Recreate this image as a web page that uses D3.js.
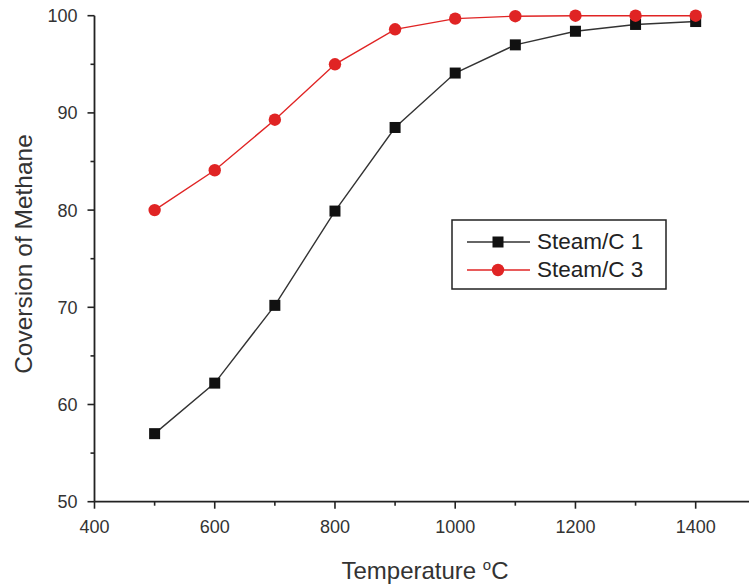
<!DOCTYPE html>
<html><head><meta charset="utf-8">
<script src="https://cdn.jsdelivr.net/npm/d3@7"></script>
<style>body{margin:0;background:#fff}svg{display:block}text{font-family:"Liberation Sans",Arial,sans-serif}</style>
</head><body>
<svg id="c" width="749" height="584"></svg>
<script>
const temps = [500,600,700,800,900,1000,1100,1200,1300,1400];
const steamC1 = [57,62.2,70.2,79.9,88.5,94.1,97,98.4,99.1,99.4];
const steamC3 = [80,84.1,89.3,95,98.6,99.7,99.95,100,100,100];
const xTicks = [400,600,800,1000,1200,1400];
const yTicks = [50,60,70,80,90,100];
const seriesNames = ["Steam/C 1","Steam/C 3"];

const svg = d3.select("#c");
const x = d3.scaleLinear().domain([400,1500]).range([94.5,755.8]);
const y = d3.scaleLinear().domain([50,100]).range([501.7,15.7]);
const ink = "#222";

// x axis
const gx = svg.append("g").attr("transform",`translate(0,${y(50)})`);
gx.append("line").attr("x1",x(400)).attr("x2",x(1500)).attr("y1",0).attr("y2",0).attr("stroke",ink).attr("stroke-width",1.8);
gx.selectAll(".maj").data(xTicks).join("line").attr("class","maj").attr("x1",d=>x(d)).attr("x2",d=>x(d)).attr("y1",0).attr("y2",7).attr("stroke",ink).attr("stroke-width",1.6);
gx.selectAll(".min").data([500,700,900,1100,1300]).join("line").attr("class","min").attr("x1",d=>x(d)).attr("x2",d=>x(d)).attr("y1",0).attr("y2",4).attr("stroke",ink).attr("stroke-width",1.6);
gx.selectAll("text").data(xTicks).join("text").attr("x",d=>x(d)).attr("y",31).attr("text-anchor","middle").attr("font-size",18).attr("fill","#333").text(d=>d);
// y axis
const gy = svg.append("g").attr("transform",`translate(${x(400)},0)`);
gy.append("line").attr("x1",0).attr("x2",0).attr("y1",y(50)).attr("y2",y(100)).attr("stroke",ink).attr("stroke-width",1.8);
gy.selectAll(".maj").data(yTicks).join("line").attr("class","maj").attr("y1",d=>y(d)).attr("y2",d=>y(d)).attr("x1",0).attr("x2",-7).attr("stroke",ink).attr("stroke-width",1.6);
gy.selectAll(".min").data([55,65,75,85,95]).join("line").attr("class","min").attr("y1",d=>y(d)).attr("y2",d=>y(d)).attr("x1",0).attr("x2",-4).attr("stroke",ink).attr("stroke-width",1.6);
gy.selectAll("text").data(yTicks).join("text").attr("x",-17).attr("y",d=>y(d)+6.5).attr("text-anchor","end").attr("font-size",18).attr("fill","#333").text(d=>d);

// labels
svg.append("text").attr("transform",`translate(32,254) rotate(-90)`).attr("text-anchor","middle").attr("font-size",24.5).attr("fill","#333").text("Coversion of Methane");
const xl = svg.append("text").attr("x",425).attr("y",579).attr("text-anchor","middle").attr("font-size",24).attr("fill","#333");
xl.append("tspan").text("Temperature ");
xl.append("tspan").attr("font-size",15).attr("dy",-9).text("o");
xl.append("tspan").attr("dy",9).text("C");

const line = d3.line().x((d,i)=>x(temps[i])).y(d=>y(d));
const red = "#e02424";
// series 1
svg.append("path").datum(steamC1).attr("d",line).attr("fill","none").attr("stroke","#333").attr("stroke-width",1.4);
svg.selectAll(".sq").data(steamC1).join("rect").attr("class","sq").attr("x",(d,i)=>x(temps[i])-5.5).attr("y",d=>y(d)-5.5).attr("width",11).attr("height",11).attr("fill","#111");
// series 2
svg.append("path").datum(steamC3).attr("d",line).attr("fill","none").attr("stroke",red).attr("stroke-width",1.4);
svg.selectAll(".ci").data(steamC3).join("circle").attr("class","ci").attr("cx",(d,i)=>x(temps[i])).attr("cy",d=>y(d)).attr("r",6.2).attr("fill",red);

// legend
const lg = svg.append("g");
lg.append("rect").attr("x",452).attr("y",220).attr("width",214).attr("height",69).attr("fill","#fff").attr("stroke","#222").attr("stroke-width",1.5);
lg.append("line").attr("x1",467).attr("x2",530).attr("y1",242).attr("y2",242).attr("stroke","#333").attr("stroke-width",1.4);
lg.append("rect").attr("x",492.5).attr("y",236.5).attr("width",11).attr("height",11).attr("fill","#111");
lg.append("line").attr("x1",467).attr("x2",530).attr("y1",270).attr("y2",270).attr("stroke",red).attr("stroke-width",1.4);
lg.append("circle").attr("cx",498).attr("cy",270).attr("r",6.2).attr("fill",red);
lg.selectAll("text").data(seriesNames).join("text").attr("x",537).attr("y",(d,i)=>249+i*28).attr("font-size",22.5).attr("fill","#222").text(d=>d);
</script>
</body></html>
